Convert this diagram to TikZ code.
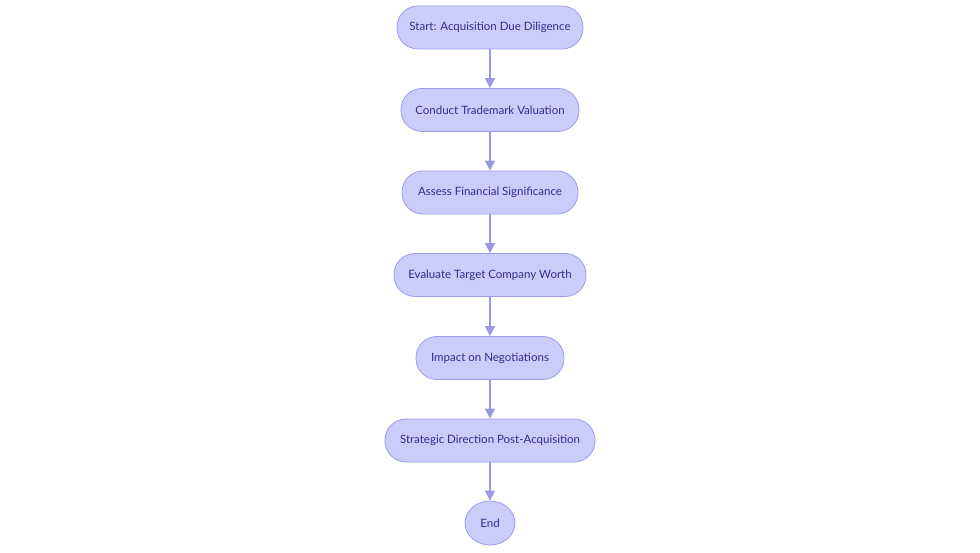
\documentclass[tikz,border=0pt]{standalone}
\usepackage{fontspec}
\setmainfont{Lato}
\usetikzlibrary{arrows.meta,shapes.geometric}
\definecolor{boxfill}{HTML}{CCCCFB}
\definecolor{boxline}{HTML}{9C9CEC}
\definecolor{boxtext}{HTML}{2F2F8C}
\definecolor{arrowline}{HTML}{9A9AE4}
\begin{document}
\begin{tikzpicture}[x=1pt,y=-1pt,
  stepbox/.style={draw=boxline, fill=boxfill, line width=0.8pt, rounded corners=21pt,
    minimum height=43pt, inner sep=0pt, text=boxtext, font=\fontsize{11.5}{13}\selectfont},
  endcircle/.style={ellipse, draw=boxline, fill=boxfill, line width=0.8pt, minimum width=50pt,
    minimum height=44pt, inner sep=0pt, text=boxtext, font=\fontsize{11.5}{13}\selectfont},
  flow/.style={draw=arrowline, line width=1.6pt, -{Triangle[length=10pt,width=10pt]}}]
  \useasboundingbox (0,0) rectangle (980,553);
  \node[stepbox, minimum width=186pt] (start) at (490,27.5) {Start: Acquisition Due Diligence};
  \node[stepbox, minimum width=178pt] (valuation) at (490,110) {Conduct Trademark Valuation};
  \node[stepbox, minimum width=176pt] (assess) at (490,192.5) {Assess Financial Significance};
  \node[stepbox, minimum width=192pt] (evaluate) at (490,275) {Evaluate Target Company Worth};
  \node[stepbox, minimum width=148pt] (impact) at (490,358) {Impact on Negotiations};
  \node[stepbox, minimum width=210pt] (strategic) at (490,440.5) {Strategic Direction Post-Acquisition};
  \node[endcircle] (end) at (490,523) {End};
  \draw[flow] (start) -- (valuation);
  \draw[flow] (valuation) -- (assess);
  \draw[flow] (assess) -- (evaluate);
  \draw[flow] (evaluate) -- (impact);
  \draw[flow] (impact) -- (strategic);
  \draw[flow] (strategic) -- (end);
\end{tikzpicture}
\end{document}
